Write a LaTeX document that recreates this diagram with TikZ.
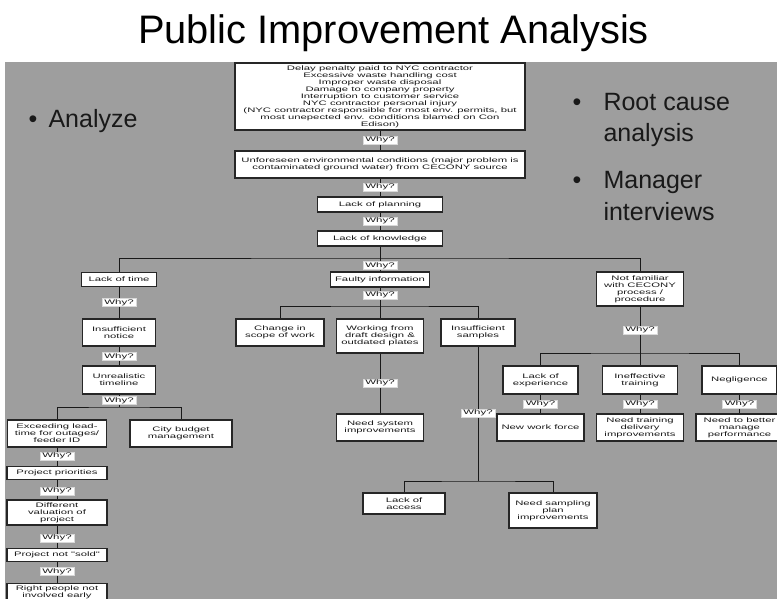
\documentclass[tikz,border=0pt]{standalone}
\usepackage{fontspec}
\setmainfont{Liberation Sans}
\newfontfamily\boxfont[FakeStretch=1.74]{Liberation Sans}
\usetikzlibrary{backgrounds}
\pgfdeclarelayer{bglayer}
\pgfsetlayers{bglayer,background,main}
\definecolor{slidegray}{RGB}{158,158,158}
\begin{document}
\begin{tikzpicture}[x=1pt,y=-1pt,
  box/.style={draw=black!85, line width=1.1pt, fill=white, align=center, inner sep=0pt,
    font=\boxfont\fontsize{6.5}{7.0}\selectfont, text=black!90},
  why/.style={fill=white, draw=black!15, line width=0.4pt, inner xsep=2.2pt, inner ysep=1.1pt,
    font=\boxfont\fontsize{6.6}{7.0}\selectfont, text=black!90},
  conn/.style={draw=black!90, line width=0.9pt},
  bul/.style={font=\fontsize{25}{31}\selectfont, anchor=base west, text=black!90}]
\useasboundingbox (0,0) rectangle (777,599);
\begin{pgfonlayer}{bglayer}
  \fill[white] (0,0) rectangle (777,599);
  \fill[slidegray] (5,62) rectangle (777,599);
\end{pgfonlayer}

% title and bullets
\node[font=\fontsize{39.8}{44}\selectfont, anchor=base] (title) at (393.5,44) {Public Improvement Analysis};
\node[bul] (bd1) at (25,128) {•};
\node[bul] (an) at (45,128) {Analyze};
\node[bul] (bd2) at (569,111) {•};
\node[bul] (rc1) at (600,111) {Root cause};
\node[bul] (rc2) at (600,142) {analysis};
\node[bul] (bd3) at (569,189) {•};
\node[bul] (mg1) at (600,189) {Manager};
\node[bul] (mg2) at (600,220) {interviews};

% spine
\node[box, minimum width=290, minimum height=67] (top) at (380,96.5) {Delay penalty paid to NYC contractor\\Excessive waste handling cost\\Improper waste disposal\\Damage to company property\\Interruption to customer service\\NYC contractor personal injury\\(NYC contractor responsible for most env. permits, but\\most unepected env. conditions blamed on Con\\Edison)};
\node[box, minimum width=290, minimum height=27] (unf) at (380,164.5) {Unforeseen environmental conditions (major problem is\\contaminated ground water) from CECONY source};
\node[box, minimum width=125, minimum height=15] (plan) at (380,204.5) {Lack of planning};
\node[box, minimum width=125, minimum height=15] (know) at (380,238.5) {Lack of knowledge};
\node[box, minimum width=99, minimum height=15] (faulty) at (380,279.5) {Faulty information};
\node[box, minimum width=75, minimum height=14] (time) at (119,279.5) {Lack of time};
\node[box, minimum width=87, minimum height=34] (fam) at (640,289) {Not familiar\\with CECONY\\process /\\procedure};

% left column
\node[box, minimum width=73, minimum height=27] (notice) at (119,332.5) {Insufficient\\notice};
\node[box, minimum width=73, minimum height=28] (unreal) at (119,380) {Unrealistic\\timeline};
\node[box, minimum width=99, minimum height=27] (exceed) at (57,433.5) {Exceeding lead-\\time for outages/\\feeder ID};
\node[box, minimum width=102, minimum height=27] (city) at (181,433.5) {City budget\\management};
\node[box, minimum width=100, minimum height=13] (prio) at (57,473) {Project priorities};
\node[box, minimum width=100, minimum height=25] (diffv) at (57,512.5) {Different\\valuation of\\project};
\node[box, minimum width=100, minimum height=13] (notsold) at (57,555) {Project not "sold"};
\node[box, minimum width=100, inner ysep=2pt, anchor=north] (right) at (57,583) {Right people not\\involved early};

% middle
\node[box, minimum width=88, minimum height=27] (scope) at (280,332.5) {Change in\\scope of work};
\node[box, minimum width=87, minimum height=34] (work) at (380,336) {Working from\\draft design \&\\outdated plates};
\node[box, minimum width=74, minimum height=27] (samp) at (478,332.5) {Insufficient\\samples};
\node[box, minimum width=87, minimum height=27] (nsys) at (380,427.5) {Need system\\improvements};
\node[box, minimum width=82, minimum height=21] (access) at (404,503.5) {Lack of\\access};
\node[box, minimum width=88, minimum height=35] (nsamp) at (553,510.5) {Need sampling\\plan\\improvements};

% right
\node[box, minimum width=75, minimum height=28] (exper) at (540.5,380) {Lack of\\experience};
\node[box, minimum width=75, minimum height=28] (train) at (640,380) {Ineffective\\training};
\node[box, minimum width=75, minimum height=28] (negl) at (739.5,380) {Negligence};
\node[box, minimum width=87, minimum height=27] (nwf) at (540.5,427.5) {New work force};
\node[box, minimum width=87, minimum height=27] (ntrain) at (640,427.5) {Need training\\delivery\\improvements};
\node[box, minimum width=87, minimum height=27] (nbetter) at (739.5,427.5) {Need to better\\manage\\performance};

% junctions
\coordinate (j1) at (380,258);
\coordinate (j2) at (119,407);
\coordinate (j3) at (380,306);
\coordinate (j4) at (478,481);
\coordinate (j5) at (640,353);

% why labels
\node[why] (w1) at (380,140) {Why?};
\node[why] (w2) at (380,187) {Why?};
\node[why] (w3) at (380,221) {Why?};
\node[why] (w4) at (380,265.5) {Why?};
\node[why] (w5) at (380,295) {Why?};
\node[why] (wl1) at (119,302.5) {Why?};
\node[why] (wl2) at (119,356.5) {Why?};
\node[why] (wl3) at (119,400.5) {Why?};
\node[why] (wa) at (57,456) {Why?};
\node[why] (wb) at (57,491) {Why?};
\node[why] (wc) at (57,538) {Why?};
\node[why] (wd) at (57,571.5) {Why?};
\node[why] (wm) at (380,383) {Why?};
\node[why] (ws) at (478,413) {Why?};
\node[why] (wr) at (640,330) {Why?};
\node[why] (wr1) at (540.5,404) {Why?};
\node[why] (wr2) at (640,404) {Why?};
\node[why] (wr3) at (739.5,404) {Why?};

% connectors
\begin{pgfonlayer}{background}
  \draw[conn] (top.south) -- (unf.north);
  \draw[conn] (unf.south) -- (plan.north);
  \draw[conn] (plan.south) -- (know.north);
  \draw[conn] (know.south) -- (faulty.north);
  \draw[conn] (time.north) |- (j1) -| (fam.north);
  \draw[conn] (time.south) -- (notice.north);
  \draw[conn] (notice.south) -- (unreal.north);
  \draw[conn] (unreal.south) -- (j2);
  \draw[conn] (exceed.north) |- (j2) -| (city.north);
  \draw[conn] (exceed.south) -- (prio.north);
  \draw[conn] (prio.south) -- (diffv.north);
  \draw[conn] (diffv.south) -- (notsold.north);
  \draw[conn] (notsold.south) -- (right.north);
  \draw[conn] (faulty.south) -- (work.north);
  \draw[conn] (scope.north) |- (j3) -| (samp.north);
  \draw[conn] (work.south) -- (nsys.north);
  \draw[conn] (samp.south) -- (j4);
  \draw[conn] (access.north) |- (j4) -| (nsamp.north);
  \draw[conn] (fam.south) -- (train.north);
  \draw[conn] (exper.north) |- (j5) -| (negl.north);
  \draw[conn] (exper.south) -- (nwf.north);
  \draw[conn] (train.south) -- (ntrain.north);
  \draw[conn] (negl.south) -- (nbetter.north);
\end{pgfonlayer}
\end{tikzpicture}
\end{document}
